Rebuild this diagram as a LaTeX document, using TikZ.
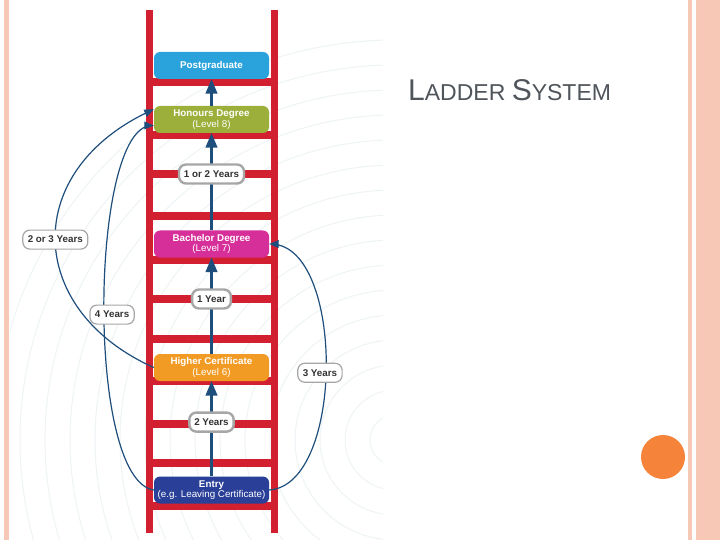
\documentclass[tikz,border=0pt]{standalone}
\usepackage{fontspec}
\setmainfont{Liberation Sans}
\usepackage{tikz}
\usetikzlibrary{arrows}
\definecolor{rungred}{HTML}{D32030}
\definecolor{postblue}{HTML}{2AA3DD}
\definecolor{honsgreen}{HTML}{9BAF3A}
\definecolor{bachpink}{HTML}{D72F99}
\definecolor{highorange}{HTML}{F19B25}
\definecolor{entryblue}{HTML}{2A3F98}
\definecolor{arrowblue}{HTML}{1E4E7C}
\definecolor{titlegray}{HTML}{50555B}
\definecolor{dotorange}{HTML}{F5843A}
\definecolor{edgepink}{HTML}{F8C8B6}
\definecolor{ripple}{HTML}{EEF3F6}
\begin{document}
\begin{tikzpicture}[x=1pt,y=-1pt]
\tikzstyle{box}=[rounded corners=6pt, minimum width=115pt, minimum height=27pt, inner sep=1pt, text=white, align=center, font=\fontsize{9.8}{10.5}\selectfont\bfseries]
\tikzstyle{tag}=[draw=gray!70, fill=white, rounded corners=7pt, minimum height=19pt, inner xsep=5pt, inner ysep=1pt, text=black!80, font=\fontsize{9.8}{10.5}\selectfont\bfseries]
\tikzstyle{climb}=[draw=arrowblue, line width=2.4pt, -triangle 45]
\tikzstyle{jump}=[draw=arrowblue, line width=1.2pt, -triangle 45]
\useasboundingbox (0,0) rectangle (720,540);
\fill[white] (0,0) rectangle (720,540);
\begin{scope}
\clip (10,0) rectangle (383,540);
\foreach \r in {25,50,...,400} \draw[ripple, line width=1pt] (395,440) circle (\r);
\end{scope}
\fill[edgepink] (4,0) rectangle (9,540);
\fill[edgepink] (688,0) rectangle (692,540);
\fill[edgepink] (696,0) rectangle (720,540);
\draw[edgepink!80!red!60, line width=1pt] (702,0) -- (702,540);
\fill[dotorange] (663,457) circle (22);
\fill[rungred] (146,10) rectangle (153,533);
\fill[rungred] (271,10) rectangle (278,533);
\foreach \y in {82,135,174,216,260,299,339,381,424,463,506}
  \fill[rungred] (146,\y-4) rectangle (278,\y+4);
\draw (211.5,65.5) node (post) [box,fill=postblue] {Postgraduate};
\draw (211.5,119.5) node (hons) [box,fill=honsgreen] {Honours Degree\\{\mdseries(Level 8)}};
\draw (211.5,244) node (bach) [box,fill=bachpink] {Bachelor Degree\\{\mdseries(Level 7)}};
\draw (211.5,367.5) node (high) [box,fill=highorange] {Higher Certificate\\{\mdseries(Level 6)}};
\draw (211.5,490) node (entry) [box,fill=entryblue] {Entry\\{\mdseries(e.g. Leaving Certificate)}};
\draw[climb] (entry) -- (high) node[tag,pos=.57] {2 Years};
\draw[climb] (high) -- (bach) node[tag,pos=.57] {1 Year};
\draw[climb] (bach) -- (hons) node[tag,pos=.58] {1 or 2 Years};
\draw[climb] (hons) -- (post);
\draw[jump] (high.west) .. controls (25,310) and (20,170) .. (hons.170) node[tag,pos=.5] {2 or 3 Years};
\draw[jump] (entry.west) .. controls (85,480) and (90,125) .. (hons.186) node[tag,pos=.48,xshift=8pt] {4 Years};
\draw[jump] (entry.east) .. controls (345,485) and (345,245) .. (bach.east) node[tag,pos=.48,xshift=-6pt] {3 Years};
\node (title) [anchor=base west, inner sep=0pt, text=titlegray] at (408,101) {\fontsize{30}{31}\selectfont L\fontsize{23}{24}\selectfont ADDER \fontsize{30}{31}\selectfont S\fontsize{23}{24}\selectfont YSTEM};
\end{tikzpicture}
\end{document}
